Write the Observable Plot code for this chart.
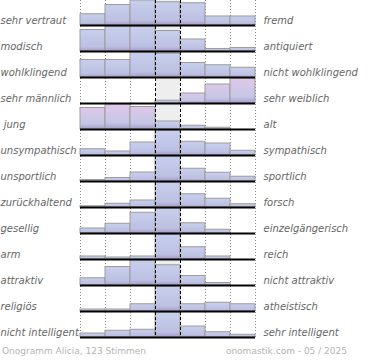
<!DOCTYPE html>
<html>
<head>
<meta charset="utf-8">
<script src="https://cdn.jsdelivr.net/npm/d3@7"></script>
<script src="https://cdn.jsdelivr.net/npm/@observablehq/plot@0.6"></script>
<style>
  body { margin: 0; background: #fff; }
  #footer { width: 370px; height: 21px; box-sizing: border-box; padding: 6px 23px 0 2px;
    display: flex; justify-content: space-between; font-family: "DejaVu Sans", sans-serif;
    font-size: 9px; line-height: 12px; color: #b4b4b4; }
</style>
</head>
<body>
<div id="chart"></div>
<div id="footer"><span id="fl"></span><span id="fr"></span></div>
<script>
// Left and right poles of each scale
const leftLabels = ["sehr vertraut", "modisch", "wohlklingend", "sehr männlich", "\u00a0jung",
  "unsympathisch", "unsportlich", "zurückhaltend", "gesellig", "arm", "attraktiv", "religiös",
  "nicht intelligent"];
const rightLabels = ["fremd", "antiquiert", "nicht wohlklingend", "sehr weiblich", "alt",
  "sympathisch", "sportlich", "forsch", "einzelgängerisch", "reich", "nicht attraktiv",
  "atheistisch", "sehr intelligent"];
// Relative frequency of the 7 answer steps (percent of the row's most frequent step)
const values = [
  [45, 82, 100, 93, 89, 36, 36],
  [86, 100, 100, 82, 48, 10, 14],
  [70, 70, 100, 95, 58, 49, 39],
  [0, 0, 0, 11, 40, 76, 100],
  [86, 100, 90, 32, 15, 7, 0],
  [25, 16, 52, 100, 55, 48, 19],
  [6, 14, 36, 100, 51, 35, 19],
  [5, 15, 28, 100, 53, 35, 13],
  [20, 39, 83, 100, 41, 15, 0],
  [12, 8, 12, 100, 49, 12, 0],
  [29, 74, 100, 81, 38, 10, 0],
  [8, 8, 29, 100, 29, 35, 29],
  [16, 27, 31, 100, 44, 21, 11]
];
// Steps drawn in the pink tone (row index -> steps 1..7)
const pinkSteps = {3: [5, 6, 7], 4: [1, 2, 3]};
const footerLeft = "Onogramm Alicia, 123 Stimmen";
const footerRight = "onomastik.com - 05 / 2025";

const rows = leftLabels.map((l, i) => ({row: i, left: l, right: rightLabels[i]}));
const bars = [];
values.forEach((vs, i) => {
  const max = d3.max(vs);
  vs.forEach((v, j) => {
    if (v > 0) bars.push({row: i, step: j + 1, h: v / max, pink: (pinkSteps[i] || []).includes(j + 1)});
  });
});

const defs = () => {
  const d = d3.create("svg:defs");
  const gb = d.append("linearGradient").attr("id", "gBlue").attr("x1", 0).attr("y1", 0).attr("x2", 0).attr("y2", 1);
  gb.append("stop").attr("offset", "0%").attr("stop-color", "#c8cfec");
  gb.append("stop").attr("offset", "80%").attr("stop-color", "#bcc0e2");
  gb.append("stop").attr("offset", "100%").attr("stop-color", "#a89ccb");
  const gp = d.append("linearGradient").attr("id", "gPink").attr("x1", 0).attr("y1", 0).attr("x2", 0).attr("y2", 1);
  gp.append("stop").attr("offset", "0%").attr("stop-color", "#e0c8e8");
  gp.append("stop").attr("offset", "75%").attr("stop-color", "#c4c6e6");
  gp.append("stop").attr("offset", "100%").attr("stop-color", "#a89ccb");
  return d.node();
};

const chart = Plot.plot({
  width: 370,
  height: 339,
  marginLeft: 80,
  marginRight: 115,
  marginTop: 0,
  marginBottom: 2,
  style: {fontFamily: "DejaVu Sans, sans-serif", fontSize: "10px", background: "#fff"},
  x: {domain: [0, 7], axis: null},
  y: {domain: [0, 1], axis: null},
  fy: {domain: d3.range(13), axis: null, paddingInner: 0.04, paddingOuter: 0, round: false},
  marks: [
    defs,
    Plot.rect(rows, {fy: "row", x1: 3, x2: 4, y1: 0, y2: 1, fill: "#eeeeee"}),
    Plot.ruleX([0, 1, 2, 5, 6, 7], {stroke: "#8a8a8a", strokeDasharray: "1,2", strokeWidth: 1}),
    Plot.rect(bars.filter(d => !d.pink), {fy: "row", x1: d => d.step - 1, x2: "step", y1: 0, y2: "h",
      fill: "url(#gBlue)", stroke: "#9c9c9c", strokeWidth: 1}),
    Plot.rect(bars.filter(d => d.pink), {fy: "row", x1: d => d.step - 1, x2: "step", y1: 0, y2: "h",
      fill: "url(#gPink)", stroke: "#9c9c9c", strokeWidth: 1}),
    Plot.ruleX([3, 4], {stroke: "#000", strokeDasharray: "3,2", strokeWidth: 1}),
    Plot.ruleY([0], {stroke: "#000", strokeWidth: 2}),
    Plot.text(rows, {fy: "row", text: "left", frameAnchor: "bottom-left", textAnchor: "start",
      lineAnchor: "bottom", dx: -80, dy: -1.5, fill: "#666", fontStyle: "italic", fontSize: 10}),
    Plot.text(rows, {fy: "row", text: "right", frameAnchor: "bottom-right", textAnchor: "start",
      lineAnchor: "bottom", dx: 8, dy: -1.5, fill: "#666", fontStyle: "italic", fontSize: 10})
  ]
});
document.getElementById("chart").appendChild(chart);
document.getElementById("fl").textContent = footerLeft;
document.getElementById("fr").textContent = footerRight;
</script>
</body>
</html>
